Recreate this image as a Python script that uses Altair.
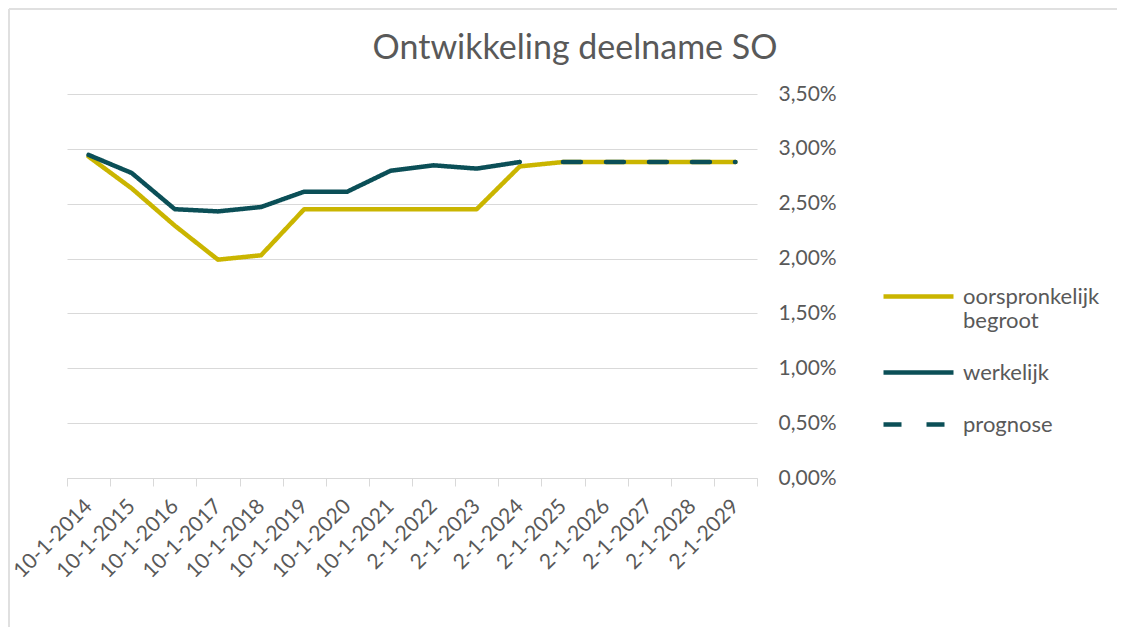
import altair as alt
import pandas as pd

categories = ["10-1-2014", "10-1-2015", "10-1-2016", "10-1-2017", "10-1-2018",
              "10-1-2019", "10-1-2020", "10-1-2021", "2-1-2022", "2-1-2023",
              "2-1-2024", "2-1-2025", "2-1-2026", "2-1-2027", "2-1-2028", "2-1-2029"]
begroot = [0.0293, 0.0264, 0.0230, 0.0199, 0.0203, 0.0245, 0.0245, 0.0245,
           0.0245, 0.0245, 0.0284, 0.0288, 0.0288, 0.0288, 0.0288, 0.0288]
werkelijk = [0.02945, 0.0278, 0.0245, 0.0243, 0.0247, 0.0261, 0.0261, 0.0280,
             0.0285, 0.0282, 0.0288, None, None, None, None, None]
prognose = [None, None, None, None, None, None, None, None,
            None, None, None, 0.0288, 0.0288, 0.0288, 0.0288, 0.0288]
series = ["oorspronkelijk begroot", "werkelijk", "prognose"]
y_ticks = [0, 0.005, 0.01, 0.015, 0.02, 0.025, 0.03, 0.035]

rows = []
for name, vals in zip(series, [begroot, werkelijk, prognose]):
    for c, v in zip(categories, vals):
        if v is not None:
            rows.append({"periode": c, "waarde": v, "serie": name})
df = pd.DataFrame(rows)

YELLOW = "#CAB500"
TEAL = "#0B4F57"
TEXT = "#595959"
GRID = "#D9D9D9"
BORDER = "#E0E0E0"
FONT = "Lato"

legend_kw = dict(title=None, orient="none", legendX=814, legendY=165,
                 symbolType="stroke", symbolSize=4900, symbolStrokeWidth=4.5,
                 labelFontSize=22, labelColor=TEXT, labelFont=FONT,
                 labelOffset=7, rowPadding=3, padding=0, labelLimit=300,
                 labelExpr="datum.label == 'oorspronkelijk begroot' ? ['oorspronkelijk', 'begroot'] : datum.label")

x = alt.X("periode:N", sort=categories, bandPosition=0.5,
          scale=alt.Scale(type="band", paddingInner=0, paddingOuter=0),
          axis=alt.Axis(title=None, labelAngle=315, labelAlign="right", labelBaseline="middle",
                        labelFontSize=21, labelColor=TEXT, labelFont=FONT,
                        domainColor=GRID, tickColor=GRID, tickSize=8, tickBand="extent",
                        labelPadding=17, grid=False, labelOverlap=False))
y = alt.Y("waarde:Q", scale=alt.Scale(domain=[0, 0.035], nice=False),
          axis=alt.Axis(title=None, orient="right", values=y_ticks,
                        labelExpr="replace(format(datum.value, '.2%'), '.', ',')",
                        labelFontSize=21, labelColor=TEXT, labelFont=FONT, labelPadding=21,
                        domain=False, ticks=False, gridColor=GRID, gridWidth=1.2))
color = alt.Color("serie:N", scale=alt.Scale(domain=series, range=[YELLOW, TEAL, TEAL]),
                  legend=alt.Legend(**legend_kw))
dash = alt.StrokeDash("serie:N", scale=alt.Scale(domain=series, range=[[1, 0], [1, 0], [18, 25]]),
                      legend=alt.Legend(**legend_kw))

def layer(name):
    return alt.Chart(df).transform_filter(alt.datum.serie == name).mark_line(
        strokeWidth=4.5, strokeCap="round", strokeJoin="round"
    ).encode(x=x, y=y, color=color, strokeDash=dash)

# chart-area frame (decoration, as in the spreadsheet chart)
frame_src = pd.DataFrame({"k": [0]})
frame_left = alt.Chart(frame_src).mark_rule(color=BORDER, strokeWidth=2).encode(
    x=alt.value(-58), y=alt.value(-85), y2=alt.value(533))
frame_top = alt.Chart(frame_src).mark_rule(color=BORDER, strokeWidth=2).encode(
    x=alt.value(-58), x2=alt.value(1050), y=alt.value(-85))

chart = alt.layer(frame_left, frame_top,
                  layer(series[0]), layer(series[1]), layer(series[2])).properties(
    width=690, height=384,
    background="white",
    autosize=alt.AutoSizeParams(type="none"),
    padding={"left": 59, "top": 86, "right": 361, "bottom": 149},
    title=alt.TitleParams("Ontwikkeling deelname SO", fontSize=34, font=FONT, color=TEXT,
                          fontWeight="normal", anchor="middle", dx=163, dy=109, offset=24,
                          baseline="alphabetic"),
).configure_view(stroke=None)

chart.save("out.html", embed_options={"renderer": "svg", "actions": False})
